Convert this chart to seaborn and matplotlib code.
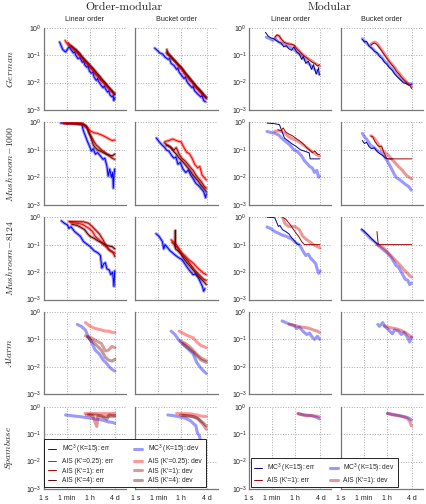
import numpy as np
import pandas as pd
import matplotlib
matplotlib.use("Agg")
import matplotlib.pyplot as plt
import seaborn as sns
from matplotlib.lines import Line2D
from matplotlib.ticker import NullLocator

# ---------------- data: (time in seconds, error) ----------------
# German
GER_OL_MC3 = [(17,0.30),(30,0.16),(50,0.13),(90,0.20),(130,0.16),(200,0.12),(260,0.13),(300,0.10),(450,0.075),(650,0.08),(1000,0.055),(1300,0.06),(1500,0.045),(2200,0.036),(2800,0.04),(3500,0.026),(5000,0.022),(6500,0.024),(8000,0.016),(1.2e4,0.012),(1.5e4,0.014),(1.8e4,0.011),(2.8e4,0.008),(4e4,0.0065),(5e4,0.0075),(6e4,0.006),(9e4,0.0045),(1.1e5,0.005),(1.4e5,0.0035),(2e5,0.003),(2.4e5,0.0034),(2.7e5,0.0022),(3.2e5,0.0028)]
GER_OL_K025 = [(45,0.34),(70,0.25),(100,0.22),(150,0.19),(250,0.14),(400,0.12),(700,0.085),(1000,0.075),(1400,0.058),(1800,0.052),(3000,0.042),(5000,0.03),(8000,0.025),(1.2e4,0.018),(2e4,0.015),(3e4,0.011),(5e4,0.009),(8e4,0.007),(1.2e5,0.0058),(2e5,0.0045),(3.2e5,0.0042)]
GER_OL_K1 = [(80,0.28),(120,0.22),(200,0.17),(300,0.16),(500,0.11),(800,0.09),(1300,0.07),(2000,0.055),(3500,0.04),(6000,0.032),(1e4,0.022),(1.6e4,0.018),(2.5e4,0.013),(4e4,0.011),(7e4,0.008),(1.1e5,0.0065),(1.8e5,0.005),(3e5,0.0038)]
GER_OL_K4 = [(130,0.22),(200,0.19),(350,0.15),(600,0.12),(1000,0.085),(1700,0.065),(3000,0.05),(5000,0.038),(9000,0.028),(1.5e4,0.021),(2.5e4,0.016),(4e4,0.012),(7e4,0.009),(1.2e5,0.0065),(2e5,0.005),(3.2e5,0.0036)]
GER_OB_MC3 = [(32,0.18),(50,0.15),(80,0.12),(130,0.11),(200,0.085),(350,0.07),(450,0.075),(600,0.05),(1000,0.042),(1600,0.03),(2000,0.034),(2500,0.024),(4000,0.018),(6000,0.014),(7500,0.016),(1e4,0.011),(1.5e4,0.0085),(2.5e4,0.0065),(3e4,0.0072),(4e4,0.005),(7e4,0.0038),(1.2e5,0.003),(1.5e5,0.0034),(2e5,0.0022),(2.8e5,0.002)]
GER_OB_K025 = [(250,0.12),(400,0.10),(600,0.08),(1000,0.065),(1600,0.05),(2500,0.036),(4000,0.03),(6000,0.021),(1e4,0.017),(1.6e4,0.012),(2.5e4,0.01),(4e4,0.0072),(7e4,0.0055),(1.2e5,0.0042),(2e5,0.0032),(3.2e5,0.0028)]
GER_OB_K1 = [(300,0.13),(500,0.10),(800,0.075),(1300,0.06),(2000,0.045),(3500,0.035),(6000,0.025),(1e4,0.018),(1.6e4,0.014),(2.5e4,0.011),(4e4,0.008),(7e4,0.006),(1.2e5,0.0045),(2e5,0.0035),(3.2e5,0.003)]
GER_OB_K4 = [(280,0.16),(320,0.11),(600,0.085),(1000,0.065),(1800,0.05),(3000,0.04),(5000,0.03),(8000,0.022),(1.3e4,0.017),(2e4,0.013),(3.5e4,0.0095),(6e4,0.007),(1e5,0.0055),(1.8e5,0.004),(3.2e5,0.0026)]
GER_ML_MC3_ERR = [(19,0.68),(30,0.5),(50,0.42),(80,0.4),(120,0.35),(200,0.3),(300,0.28),(500,0.2),(800,0.22),(1200,0.17),(2000,0.15),(3000,0.2),(5000,0.13),(8000,0.11),(1.2e4,0.07),(1.6e4,0.09),(2.5e4,0.05),(4e4,0.06),(7e4,0.03),(1e5,0.045),(1.6e5,0.02),(2.5e5,0.035),(2.8e5,0.019)]
GER_ML_MC3_DEV = [(22,0.45),(40,0.4),(70,0.35),(120,0.38),(200,0.3),(400,0.25),(700,0.22),(1200,0.2),(2000,0.18),(3500,0.15),(6000,0.12),(1e4,0.1),(1.6e4,0.075),(2.5e4,0.065),(4e4,0.05),(7e4,0.04),(1.2e5,0.03),(2e5,0.025),(2.8e5,0.02)]
GER_ML_AIS_ERR = [(100,0.45),(150,0.55),(220,0.5),(300,0.4),(500,0.3),(800,0.27),(1300,0.25),(2000,0.25),(3200,0.23),(5000,0.17),(8000,0.14),(1.3e4,0.11),(2e4,0.09),(3e4,0.08),(5e4,0.065),(8e4,0.055),(1.3e5,0.05),(2e5,0.04),(3e5,0.045)]
GER_ML_AIS_DEV = [(100,0.42),(150,0.52),(220,0.5),(300,0.38),(500,0.3),(800,0.27),(1300,0.26),(2000,0.24),(3200,0.22),(5000,0.18),(8000,0.14),(1.3e4,0.11),(2e4,0.095),(3e4,0.08),(5e4,0.07),(8e4,0.06),(1.3e5,0.05),(2e5,0.045),(3e5,0.04)]
GER_MB_MC3_ERR = [(47,0.38),(70,0.3),(100,0.32),(150,0.22),(250,0.18),(400,0.14),(700,0.12),(1000,0.09),(1600,0.075),(2500,0.055),(4000,0.045),(6000,0.035),(1e4,0.028),(1.6e4,0.02),(2.5e4,0.016),(4e4,0.013),(7e4,0.01),(1.2e5,0.009),(2e5,0.008),(3e5,0.0085)]
GER_MB_MC3_DEV = [(47,0.4),(70,0.32),(120,0.25),(200,0.2),(350,0.16),(600,0.12),(1000,0.1),(1600,0.08),(2500,0.06),(4000,0.05),(6000,0.038),(1e4,0.03),(1.6e4,0.022),(2.5e4,0.018),(4e4,0.014),(7e4,0.011),(1.2e5,0.01),(2e5,0.009),(3.2e5,0.009)]
GER_MB_AIS_ERR = [(220,0.23),(300,0.26),(400,0.28),(600,0.25),(900,0.2),(1400,0.15),(2200,0.11),(3500,0.08),(5500,0.06),(9000,0.045),(1.4e4,0.035),(2.2e4,0.025),(3.5e4,0.02),(5.5e4,0.015),(9e4,0.012),(1.5e5,0.009),(2.5e5,0.0075),(3.2e5,0.006)]
GER_MB_AIS_DEV = [(220,0.25),(300,0.28),(450,0.3),(700,0.26),(1000,0.2),(1600,0.15),(2500,0.11),(4000,0.08),(6000,0.06),(1e4,0.045),(1.6e4,0.035),(2.5e4,0.026),(4e4,0.02),(6e4,0.016),(1e5,0.012),(1.6e5,0.009),(2.5e5,0.008),(3.2e5,0.007)]

# Mushroom-1000
M1K_OL_MC3 = [(21,0.95),(50,0.95),(150,0.93),(500,0.9),(900,0.85),(1200,0.5),(1800,0.3),(2500,0.2),(4000,0.12),(5000,0.09),(7000,0.11),(1e4,0.07),(1.5e4,0.08),(2.5e4,0.06),(4e4,0.045),(5.5e4,0.05),(8e4,0.025),(1e5,0.011),(1.3e5,0.02),(1.8e5,0.01),(2.2e5,0.015),(2.5e5,0.004),(2.8e5,0.012),(3.2e5,0.02)]
M1K_OL_K025 = [(30,0.98),(300,0.97),(1000,0.95),(1500,0.7),(2500,0.65),(4000,0.5),(8000,0.42),(1.5e4,0.4),(3e4,0.35),(6e4,0.3),(1e5,0.26),(2e5,0.22),(3.2e5,0.23)]
M1K_OL_K1 = [(40,0.9),(200,0.9),(800,0.85),(1500,0.8),(2500,0.6),(3500,0.4),(5000,0.3),(8000,0.2),(1.2e4,0.15),(2e4,0.12),(3e4,0.1),(5e4,0.085),(8e4,0.07),(1.2e5,0.06),(2e5,0.05),(3.2e5,0.045)]
M1K_OL_K4 = [(60,0.92),(300,0.9),(1000,0.88),(2000,0.75),(3000,0.45),(5000,0.25),(7000,0.15),(1e4,0.12),(1.5e4,0.1),(2.5e4,0.09),(4e4,0.08),(7e4,0.07),(1.2e5,0.065),(2e5,0.06),(3.2e5,0.07)]
M1K_OB_MC3 = [(43,0.27),(70,0.2),(120,0.15),(200,0.12),(250,0.1),(400,0.09),(700,0.06),(1000,0.05),(1400,0.055),(2000,0.03),(3000,0.035),(5000,0.02),(8000,0.015),(1.3e4,0.018),(2e4,0.012),(3e4,0.009),(5e4,0.006),(8e4,0.005),(1.2e5,0.004),(2e5,0.003),(2.8e5,0.0018),(3.2e5,0.0025)]
M1K_OB_K025 = [(200,0.2),(400,0.22),(800,0.25),(1500,0.22),(2500,0.2),(3500,0.2),(6000,0.12),(1e4,0.08),(1.5e4,0.075),(2.5e4,0.05),(4e4,0.03),(7e4,0.022),(1e5,0.025),(1.5e5,0.012),(2.2e5,0.01),(3.2e5,0.008)]
M1K_OB_K1 = [(180,0.18),(300,0.15),(600,0.12),(1000,0.1),(1500,0.12),(2500,0.07),(4000,0.05),(7000,0.04),(1.2e4,0.03),(2e4,0.022),(3e4,0.018),(5e4,0.012),(8e4,0.009),(1.3e5,0.007),(2e5,0.005),(3.2e5,0.004)]
M1K_OB_K4 = [(250,0.15),(500,0.13),(900,0.09),(1500,0.07),(2500,0.05),(4000,0.04),(7000,0.03),(1.2e4,0.022),(2e4,0.016),(3e4,0.012),(5e4,0.009),(8e4,0.007),(1.3e5,0.005),(2e5,0.004),(3.2e5,0.003)]
M1K_ML_MC3_ERR = [(25,0.95),(60,0.92),(100,0.9),(230,0.83),(560,0.27),(1000,0.22),(2000,0.17),(4400,0.135),(1e4,0.1),(2e4,0.09),(4.6e4,0.078),(5.5e4,0.047),(3e5,0.047)]
M1K_ML_MC3_DEV = [(25,0.47),(50,0.43),(100,0.4),(200,0.35),(400,0.25),(800,0.19),(1500,0.15),(3000,0.1),(6000,0.085),(1.2e4,0.06),(2e4,0.04),(3e4,0.033),(5e4,0.025),(8e4,0.022),(1.2e5,0.015),(1.8e5,0.018),(2.5e5,0.01),(3e5,0.011)]
M1K_ML_AIS_ERR = [(170,0.54),(300,0.5),(450,0.63),(700,0.45),(1200,0.38),(2500,0.32),(5000,0.25),(1e4,0.2),(2e4,0.15),(3e4,0.12),(5e4,0.1),(8e4,0.08),(1.3e5,0.09),(2e5,0.07),(3e5,0.068)]
M1K_ML_AIS_DEV = [(100,0.47),(200,0.5),(400,0.45),(700,0.38),(1200,0.3),(2500,0.25),(5000,0.22),(1e4,0.18),(2e4,0.14),(4e4,0.11),(7e4,0.09),(1.2e5,0.075),(2e5,0.065),(3e5,0.059)]
M1K_MB_MC3_ERR = [(47,0.22),(70,0.17),(100,0.19),(160,0.13),(250,0.11),(400,0.12),(700,0.085),(1200,0.07),(2000,0.06),(3000,0.05),(5000,0.047),(1e4,0.047)]
M1K_MB_MC3_DEV = [(47,0.4),(70,0.3),(100,0.25),(200,0.15),(400,0.12),(800,0.09),(1800,0.07),(4000,0.04),(8000,0.022),(1.9e4,0.01),(4e4,0.008),(1e5,0.0056),(2e5,0.0045),(2.9e5,0.0034)]
M1K_MB_AIS_ERR = [(220,0.32),(300,0.3),(450,0.2),(700,0.15),(1000,0.13),(1500,0.14),(2000,0.09),(3000,0.06),(4000,0.047),(3.2e5,0.047)]
M1K_MB_AIS_DEV = [(220,0.33),(300,0.3),(450,0.25),(700,0.18),(1200,0.12),(2000,0.09),(4000,0.07),(8000,0.05),(1.5e4,0.035),(3e4,0.025),(6e4,0.018),(1.2e5,0.012),(2e5,0.01),(3.2e5,0.0087)]

# Mushroom-8124
M8K_OL_MC3 = [(23,0.74),(40,0.6),(70,0.52),(90,0.39),(130,0.45),(250,0.3),(400,0.25),(700,0.2),(1200,0.13),(2500,0.1),(4000,0.085),(8000,0.06),(1.7e4,0.049),(2.5e4,0.04),(3.2e4,0.014),(4.5e4,0.02),(6e4,0.022),(8e4,0.013),(1.2e5,0.012),(1.6e5,0.008),(2.2e5,0.01),(2.8e5,0.003),(3.2e5,0.011)]
M8K_OL_K025 = [(120,0.65),(400,0.6),(1000,0.55),(2000,0.45),(3500,0.38),(6000,0.3),(1e4,0.2),(2e4,0.15),(4e4,0.1),(8e4,0.08),(1.3e5,0.06),(2e5,0.055),(3.2e5,0.05)]
M8K_OL_K1 = [(90,0.7),(300,0.69),(1200,0.68),(3000,0.6),(6000,0.45),(1e4,0.35),(2e4,0.25),(4e4,0.15),(6e4,0.1),(1e5,0.07),(1.6e5,0.06),(2.5e5,0.05),(3.2e5,0.037)]
M8K_OL_K4 = [(150,0.55),(400,0.5),(800,0.42),(1500,0.35),(2500,0.25),(4000,0.2),(8000,0.17),(1.5e4,0.14),(3e4,0.12),(6e4,0.1),(1e5,0.09),(2e5,0.085),(3.2e5,0.07)]
M8K_OB_MC3 = [(40,0.25),(70,0.2),(125,0.13),(160,0.07),(200,0.1),(300,0.08),(500,0.06),(1000,0.045),(2000,0.035),(4300,0.028),(8000,0.018),(1.5e4,0.012),(3e4,0.008),(4.5e4,0.0085),(8e4,0.006),(1.2e5,0.004),(1.6e5,0.003),(2e5,0.002),(2.5e5,0.0025)]
M8K_OB_K025 = [(600,0.15),(1000,0.12),(1500,0.1),(2500,0.07),(4000,0.05),(7000,0.04),(1.2e4,0.03),(2e4,0.025),(3.5e4,0.02),(6e4,0.015),(1e5,0.012),(2e5,0.009),(3.2e5,0.008)]
M8K_OB_K1 = [(700,0.12),(1100,0.1),(1800,0.08),(3000,0.055),(5000,0.04),(9000,0.03),(1.5e4,0.022),(2.5e4,0.016),(4e4,0.012),(7e4,0.009),(1.2e5,0.007),(2e5,0.0055),(3.2e5,0.005)]
M8K_OB_K4 = [(1200,0.08),(1260,0.33),(1300,0.07),(2000,0.06),(3500,0.045),(6000,0.03),(1e4,0.022),(1.8e4,0.016),(3e4,0.012),(5e4,0.009),(8e4,0.007),(1.3e5,0.0055),(2e5,0.0045),(3.2e5,0.0035)]
M8K_ML_MC3_ERR = [(25,1.0),(60,0.98),(100,0.95),(190,0.46),(250,0.5),(400,0.35),(700,0.3),(1200,0.25),(2000,0.18),(3700,0.13),(5000,0.11),(6500,0.1),(8000,0.1)]
M8K_ML_MC3_DEV = [(25,0.44),(50,0.38),(100,0.3),(190,0.26),(400,0.22),(800,0.2),(2000,0.16),(4000,0.12),(8000,0.1),(1.5e4,0.06),(2.5e4,0.04),(4e4,0.045),(6e4,0.032),(1e5,0.025),(1.5e5,0.02),(2e5,0.012),(2.5e5,0.009),(3.2e5,0.011)]
M8K_ML_AIS_ERR = [(400,1.0),(700,0.85),(1500,0.55),(3600,0.3),(7000,0.2),(1.2e4,0.13),(2e4,0.1),(3.2e5,0.1)]
M8K_ML_AIS_DEV = [(400,1.0),(600,0.6),(1200,0.46),(3600,0.46),(8000,0.35),(1.5e4,0.2),(3e4,0.15),(6e4,0.12),(1e5,0.1),(2e5,0.085),(3.2e5,0.075)]
M8K_MB_MC3_ERR = [(42,0.37),(80,0.28),(140,0.22),(230,0.17),(350,0.14),(560,0.115),(800,0.1)]
M8K_MB_MC3_DEV = [(42,0.35),(80,0.27),(140,0.2),(230,0.16),(400,0.13),(700,0.1),(1200,0.08),(2000,0.065),(4000,0.05),(8000,0.035),(2e4,0.017),(3e4,0.015),(5e4,0.01),(1e5,0.0055),(1.6e5,0.005),(2.2e5,0.0035),(3e5,0.004)]
M8K_MB_AIS_ERR = [(650,0.3),(700,0.2),(800,0.11),(1000,0.1),(3.2e5,0.1)]
M8K_MB_AIS_DEV = [(700,0.1),(1200,0.09),(2500,0.07),(5000,0.05),(1e4,0.035),(2e4,0.025),(4e4,0.018),(8e4,0.012),(1.5e5,0.009),(2.5e5,0.007),(3.2e5,0.0066)]

# Alarm (deviations only)
ALM_OL_MC3 = [(400,0.35),(800,0.3),(1700,0.22),(3000,0.12),(5000,0.08),(1e4,0.04),(2e4,0.03),(4.3e4,0.017),(7e4,0.014),(1.2e5,0.01),(2e5,0.008),(3.3e5,0.007)]
ALM_OL_K025 = [(1700,0.41),(4000,0.3),(1e4,0.25),(3e4,0.22),(6e4,0.2),(1.2e5,0.2),(2e5,0.18),(3.3e5,0.18)]
ALM_OL_K1 = [(1700,0.134),(4000,0.12),(1.2e4,0.089),(3e4,0.07),(6e4,0.038),(1e5,0.04),(2e5,0.055),(3.3e5,0.05)]
ALM_OL_K4 = [(2500,0.12),(5000,0.09),(1e4,0.067),(3e4,0.04),(6e4,0.022),(1e5,0.018),(2e5,0.016),(3.3e5,0.019)]
ALM_OB_MC3 = [(600,0.2),(1200,0.15),(2500,0.09),(6000,0.06),(1.2e4,0.045),(3e4,0.03),(6e4,0.014),(1.2e5,0.009),(2e5,0.007),(3.2e5,0.0057)]
ALM_OB_K025 = [(2500,0.2),(6000,0.16),(1.5e4,0.13),(3e4,0.115),(6e4,0.08),(1.2e5,0.06),(2e5,0.055),(3.2e5,0.05)]
ALM_OB_K1 = [(3000,0.09),(8000,0.07),(2e4,0.05),(4e4,0.035),(8e4,0.025),(1.5e5,0.02),(3.2e5,0.017)]
ALM_OB_K4 = [(5000,0.07),(1.2e4,0.05),(3e4,0.035),(6e4,0.025),(1.2e5,0.018),(2e5,0.016),(3.2e5,0.0145)]
ALM_ML_MC3 = [(370,0.47),(800,0.4),(1500,0.35),(3000,0.32),(5000,0.25),(8000,0.28),(1.5e4,0.2),(3e4,0.15),(5e4,0.17),(8e4,0.12),(1.2e5,0.1),(2e5,0.13),(3e5,0.1)]
ALM_ML_AIS = [(1300,0.36),(3000,0.33),(6000,0.3),(1.2e4,0.28),(2.5e4,0.27),(5e4,0.25),(1e5,0.22),(2e5,0.2),(3e5,0.18)]
ALM_MB_MC3 = [(750,0.35),(1000,0.3),(1800,0.41),(2500,0.3),(4000,0.25),(1e4,0.16),(1.5e4,0.22),(3e4,0.2),(5e4,0.15),(8e4,0.18),(1.5e5,0.12),(2.2e5,0.08),(3e5,0.12)]
ALM_MB_AIS = [(2500,0.31),(6000,0.27),(1.5e4,0.25),(3e4,0.23),(6e4,0.2),(1.2e5,0.17),(2e5,0.14),(3.2e5,0.12)]

# Spambase (deviations only)
SPM_OL_MC3 = [(50,0.5),(100,0.48),(300,0.45),(800,0.43),(2000,0.4),(5000,0.38),(1.5e4,0.35),(4e4,0.32),(1e5,0.28),(2e5,0.27),(3.2e5,0.25)]
SPM_OL_K025 = [(1600,0.57),(5000,0.57),(2e4,0.56),(6e4,0.56),(1.5e5,0.56),(3.2e5,0.57)]
SPM_OL_K1 = [(2000,0.5),(6000,0.48),(1.3e4,0.19),(1.6e4,0.45),(4e4,0.42),(1e5,0.45),(3.2e5,0.44)]
SPM_OL_K4 = [(3000,0.52),(1e4,0.5),(3e4,0.47),(8e4,0.35),(1.2e5,0.5),(3.2e5,0.48)]
SPM_OB_MC3 = [(330,0.5),(1000,0.47),(3000,0.42),(8000,0.38),(2e4,0.3),(3e4,0.25),(5e4,0.2),(6.5e4,0.11),(9e4,0.09),(1.2e5,0.054),(1.8e5,0.05),(2.8e5,0.035)]
SPM_OB_K025 = [(1600,0.57),(6000,0.56),(2e4,0.55),(6e4,0.5),(1.5e5,0.45),(3.2e5,0.44)]
SPM_OB_K1 = [(3000,0.5),(1e4,0.47),(3e4,0.44),(8e4,0.35),(1.5e5,0.25),(2.5e5,0.18),(3.2e5,0.15)]
SPM_OB_K4 = [(5000,0.48),(2e4,0.45),(6e4,0.4),(1.2e5,0.3),(2e5,0.25),(3.2e5,0.2)]
SPM_ML_MC3 = [(7000,0.55),(2e4,0.5),(5e4,0.48),(1e5,0.45),(2e5,0.4),(2.8e5,0.36)]
SPM_ML_AIS = [(6000,0.57),(1.5e4,0.5),(3e4,0.47),(6e4,0.48),(1.2e5,0.46),(2e5,0.45),(2.8e5,0.43)]
SPM_MB_MC3 = [(4300,0.57),(1e4,0.53),(3e4,0.48),(6e4,0.45),(1.2e5,0.42),(2e5,0.38),(3e5,0.33)]
SPM_MB_AIS = [(4300,0.56),(1.2e4,0.5),(3e4,0.47),(8e4,0.42),(1.5e5,0.37),(2.2e5,0.3),(3e5,0.2)]

ROW_NAMES = ["German", "Mushroom{-}1000", "Mushroom{-}8124", "Alarm", "Spambase"]
COL_TITLES = ["Linear order", "Bucket order", "Linear order", "Bucket order"]
GROUP_TITLES = ["Order-modular", "Modular"]
XTICKS = [1, 60, 3600, 345600]
XTICK_LABELS = ["1 s", "1 min", "1 h", "4 d"]
YTICKS = [1e-3, 1e-2, 1e-1, 1.0]

# ---------------- styles ----------------
C_OM = {"mc3": "#0000ff", "k025": "#ff0000", "k1": "#b00000", "k4": "#600000"}
C_MOD_ERR = {"mc3": "#000090", "ais": "#a00000"}
C_MOD_DEV = {"mc3": "#0000ff", "ais": "#cc0000"}
ERR_LW, DEV_LW, DEV_ALPHA = 0.7, 2.2, 0.4

sns.set_style("white")
plt.rcParams["font.family"] = ["Liberation Sans", "DejaVu Sans"]
plt.rcParams["mathtext.fontset"] = "custom"
plt.rcParams["mathtext.rm"] = "Liberation Sans"
plt.rcParams["mathtext.it"] = "Liberation Sans:italic"
plt.rcParams["mathtext.bf"] = "Liberation Sans:bold"

W, H = 427, 504
fig = plt.figure(figsize=(W / 100, H / 100), dpi=100)

col_left = [43.7, 135.3, 249.0, 340.7]
ax_w = 82.3
row_top = [27.7, 122.45, 217.2, 311.95, 406.7]
ax_h = 82.3


def draw(ax, data, color, lw, alpha=1.0, z=2):
    t = [p[0] for p in data]
    v = [p[1] for p in data]
    sns.lineplot(x=t, y=v, ax=ax, color=color, linewidth=lw, alpha=alpha,
                 estimator=None, sort=False, legend=False, zorder=z)


om_panels = {
    (0, 0): [GER_OL_MC3, GER_OL_K025, GER_OL_K1, GER_OL_K4],
    (0, 1): [GER_OB_MC3, GER_OB_K025, GER_OB_K1, GER_OB_K4],
    (1, 0): [M1K_OL_MC3, M1K_OL_K025, M1K_OL_K1, M1K_OL_K4],
    (1, 1): [M1K_OB_MC3, M1K_OB_K025, M1K_OB_K1, M1K_OB_K4],
    (2, 0): [M8K_OL_MC3, M8K_OL_K025, M8K_OL_K1, M8K_OL_K4],
    (2, 1): [M8K_OB_MC3, M8K_OB_K025, M8K_OB_K1, M8K_OB_K4],
    (3, 0): [ALM_OL_MC3, ALM_OL_K025, ALM_OL_K1, ALM_OL_K4],
    (3, 1): [ALM_OB_MC3, ALM_OB_K025, ALM_OB_K1, ALM_OB_K4],
    (4, 0): [SPM_OL_MC3, SPM_OL_K025, SPM_OL_K1, SPM_OL_K4],
    (4, 1): [SPM_OB_MC3, SPM_OB_K025, SPM_OB_K1, SPM_OB_K4],
}
mod_panels = {
    (0, 2): [GER_ML_MC3_DEV, GER_ML_AIS_DEV, GER_ML_MC3_ERR, GER_ML_AIS_ERR],
    (0, 3): [GER_MB_MC3_DEV, GER_MB_AIS_DEV, GER_MB_MC3_ERR, GER_MB_AIS_ERR],
    (1, 2): [M1K_ML_MC3_DEV, M1K_ML_AIS_DEV, M1K_ML_MC3_ERR, M1K_ML_AIS_ERR],
    (1, 3): [M1K_MB_MC3_DEV, M1K_MB_AIS_DEV, M1K_MB_MC3_ERR, M1K_MB_AIS_ERR],
    (2, 2): [M8K_ML_MC3_DEV, M8K_ML_AIS_DEV, M8K_ML_MC3_ERR, M8K_ML_AIS_ERR],
    (2, 3): [M8K_MB_MC3_DEV, M8K_MB_AIS_DEV, M8K_MB_MC3_ERR, M8K_MB_AIS_ERR],
    (3, 2): [ALM_ML_MC3, ALM_ML_AIS, None, None],
    (3, 3): [ALM_MB_MC3, ALM_MB_AIS, None, None],
    (4, 2): [SPM_ML_MC3, SPM_ML_AIS, None, None],
    (4, 3): [SPM_MB_MC3, SPM_MB_AIS, None, None],
}

axes = {}
for r in range(5):
    for c in range(4):
        left = col_left[c] / W
        bottom = 1 - (row_top[r] + ax_h) / H
        ax = fig.add_axes([left, bottom, ax_w / W, ax_h / H])
        axes[(r, c)] = ax
        if c < 2:
            series = om_panels[(r, c)]
            keys = ["mc3", "k025", "k1", "k4"]
            for k, d in zip(keys, series):
                draw(ax, d, C_OM[k], DEV_LW, DEV_ALPHA, z=2)
            if r < 3:
                for k, d in zip(keys, series):
                    draw(ax, d, C_OM[k], ERR_LW, 1.0, z=3)
        else:
            mdev, adev, merr, aerr = mod_panels[(r, c)]
            draw(ax, mdev, C_MOD_DEV["mc3"], DEV_LW, DEV_ALPHA, z=2)
            draw(ax, adev, C_MOD_DEV["ais"], DEV_LW, DEV_ALPHA, z=2)
            if merr is not None:
                draw(ax, merr, C_MOD_ERR["mc3"], ERR_LW, 1.0, z=3)
                draw(ax, aerr, C_MOD_ERR["ais"], ERR_LW, 1.0, z=3)
        ax.set_xscale("log")
        ax.set_yscale("log")
        ax.set_xlim(1, 10 ** 6.38)
        ax.set_ylim(1e-3, 1.0)
        ax.set_xticks(XTICKS)
        ax.xaxis.set_minor_locator(NullLocator())
        ax.set_yticks(YTICKS)
        ax.yaxis.set_minor_locator(NullLocator())
        if r == 4:
            ax.set_xticklabels(XTICK_LABELS)
        else:
            ax.set_xticklabels([])
        if c not in (0, 2):
            ax.set_yticklabels([])
        ax.tick_params(axis="both", length=0, labelsize=5, colors="#222222")
        ax.tick_params(axis="x", pad=4)
        ax.tick_params(axis="y", pad=1.5)
        ax.grid(True, which="major", linestyle=":", color="#aaaaaa", linewidth=0.7)
        ax.set_axisbelow(True)
        for s in ["top", "right"]:
            ax.spines[s].set_visible(False)
        for s in ["left", "bottom"]:
            ax.spines[s].set_color("#777777")
            ax.spines[s].set_linewidth(0.9)
        ax.set_xlabel("")
        ax.set_ylabel("")

# column titles
for c in range(4):
    cx = (col_left[c] + ax_w / 2) / W
    fig.text(cx, 1 - 19.3 / H, COL_TITLES[c], ha="center", va="center", fontsize=5.2)

# group titles
fig.text(124 / W, 1 - 7.5 / H, GROUP_TITLES[0], ha="center", va="center",
         fontsize=8.5, family="cmr10")
fig.text(329.7 / W, 1 - 7.5 / H, GROUP_TITLES[1], ha="center", va="center",
         fontsize=8.5, family="cmr10")

# row labels
for r, name in enumerate(ROW_NAMES):
    cy = 1 - (row_top[r] + ax_h / 2) / H
    fig.text(9.5 / W, cy, "$" + name + "$", ha="center", va="center", rotation=90,
             fontsize=7, math_fontfamily="cm")


# legends (figure-level so they sit above every panel)
def h_err(color):
    return Line2D([], [], color=color, lw=ERR_LW)


def h_dev(color):
    return Line2D([], [], color=color, lw=DEV_LW, alpha=DEV_ALPHA)


om_handles = [h_err(C_OM["mc3"]), h_err(C_OM["k025"]), h_err(C_OM["k1"]), h_err(C_OM["k4"]),
              h_dev(C_OM["mc3"]), h_dev(C_OM["k025"]), h_dev(C_OM["k1"]), h_dev(C_OM["k4"])]
om_labels = ["MC$^3$ (K=15): err", "AIS (K'=0.25): err", "AIS (K'=1): err", "AIS (K'=4): err",
             "MC$^3$ (K=15): dev", "AIS (K'=0.25): dev", "AIS (K'=1): dev", "AIS (K'=4): dev"]
leg1 = fig.legend(om_handles, om_labels, ncol=2, loc="lower left",
                  bbox_to_anchor=(44.5 / W, 1 - 487.3 / H),
                  fontsize=4.8, frameon=True, fancybox=False, edgecolor="black",
                  framealpha=1, borderpad=0.5, labelspacing=0.35, handlelength=1.2,
                  handletextpad=1.0, columnspacing=3.0, borderaxespad=0)
leg1.get_frame().set_linewidth(0.6)

mod_handles = [h_err(C_MOD_ERR["mc3"]), h_err(C_MOD_ERR["ais"]),
               h_dev(C_MOD_DEV["mc3"]), h_dev(C_MOD_DEV["ais"])]
mod_labels = ["MC$^3$ (K=15): err", "AIS (K'=1): err", "MC$^3$ (K=15): dev", "AIS (K'=1): dev"]
leg2 = fig.legend(mod_handles, mod_labels, ncol=2, loc="lower left",
                  bbox_to_anchor=(250.7 / W, 1 - 487.3 / H),
                  fontsize=4.8, frameon=True, fancybox=False, edgecolor="black",
                  framealpha=1, borderpad=0.5, labelspacing=0.35, handlelength=1.2,
                  handletextpad=0.8, columnspacing=2.0, borderaxespad=0)
leg2.get_frame().set_linewidth(0.6)

fig.savefig("out.png", dpi=100)
